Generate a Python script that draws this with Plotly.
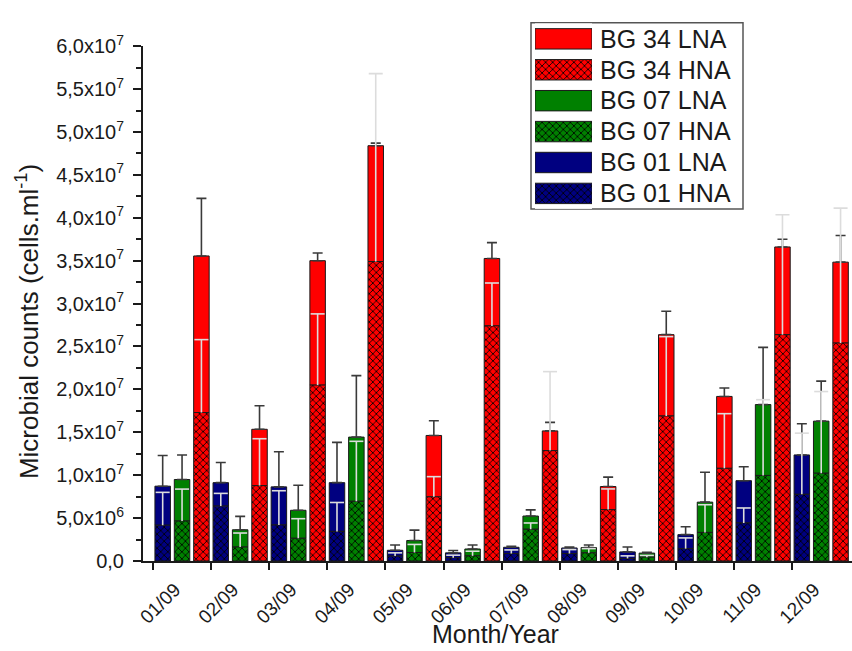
import numpy as np
import plotly.graph_objects as go

# ---------------- data (values in cells/ml, x 1e6) ----------------
months = ["01/09", "02/09", "03/09", "04/09", "05/09", "06/09",
          "07/09", "08/09", "09/09", "10/09", "11/09", "12/09"]

bg01_hna     = [4.17, 6.40, 4.20, 3.45, 0.57, 0.38, 0.87, 0.87, 0.30, 1.44, 4.43, 7.77]
bg01_lna     = [4.55, 2.73, 4.44, 5.68, 0.68, 0.57, 0.73, 0.65, 0.76, 1.63, 4.93, 4.59]
bg01_hna_err = [3.83, 1.48, 3.99, 3.37, 0.38, 0.30, 0.42, 0.46, 0.30, 1.25, 1.75, 7.13]
bg01_lna_err = [3.58, 2.35, 4.09, 4.70, 0.61, 0.27, 0.10, 0.11, 0.57, 0.93, 1.63, 3.64]

bg07_hna     = [4.66, 1.63, 2.65, 6.96, 0.99, 0.60, 3.70, 0.95, 0.45, 3.33, 9.97, 10.23]
bg07_lna     = [4.84, 2.01, 3.26, 7.48, 1.40, 0.80, 1.54, 0.61, 0.47, 3.53, 8.26, 6.07]
bg07_hna_err = [3.72, 1.63, 2.28, 6.99, 0.94, 0.54, 0.73, 0.49, 0.20, 3.23, 8.83, 9.52]
bg07_lna_err = [2.86, 1.56, 2.92, 7.16, 1.21, 0.46, 0.72, 0.30, 0.08, 3.49, 6.67, 4.66]

bg34_hna     = [17.30, 8.79, 20.50, 34.90, 7.48, 27.40, 12.87, 5.99, 16.90, 10.80, 26.38, 25.40]
bg34_lna     = [18.25, 6.56, 14.50, 13.50, 7.15, 7.86, 2.29, 2.69, 9.48, 8.38, 10.22, 9.43]
bg34_hna_err = [8.50, 5.46, 8.30, 21.90, 2.35, 5.00, 9.20, 2.41, 9.25, 6.37, 13.98, 15.73]
bg34_lna_err = [6.71, 2.75, 0.90, 0.30, 1.72, 1.84, 1.00, 1.10, 2.72, 0.98, 0.90, 3.11]

ytick_vals = [0, 5e6, 10e6, 15e6, 20e6, 25e6, 30e6, 35e6, 40e6, 45e6, 50e6, 55e6, 60e6]
ytick_text = ["0,0", "5,0x10<sup>6</sup>", "1,0x10<sup>7</sup>", "1,5x10<sup>7</sup>",
              "2,0x10<sup>7</sup>", "2,5x10<sup>7</sup>", "3,0x10<sup>7</sup>",
              "3,5x10<sup>7</sup>", "4,0x10<sup>7</sup>", "4,5x10<sup>7</sup>",
              "5,0x10<sup>7</sup>", "5,5x10<sup>7</sup>", "6,0x10<sup>7</sup>"]

SCALE = 1e6
FONT = "Liberation Sans, Arial, sans-serif"
INK = "#1a1a1a"
ERR_DARK = "#3a3a3a"
ERR_LIGHT = "#dcdcdc"

stations = [
    ("BG 01", "#000080", bg01_hna, bg01_lna, bg01_hna_err, bg01_lna_err),
    ("BG 07", "#008000", bg07_hna, bg07_lna, bg07_hna_err, bg07_lna_err),
    ("BG 34", "#FF0000", bg34_hna, bg34_lna, bg34_hna_err, bg34_lna_err),
]

n_st = len(stations)
slot = 1.0 / n_st
bar_w = 0.8 * slot
idx = np.arange(len(months))
zeros = [0] * len(months)


def hatch(col):
    return dict(shape="x", fgcolor="#000000", bgcolor=col, size=5,
                solidity=0.3, fillmode="replace")


fig = go.Figure()

# LNA (upper, solid) segments first, so HNA error bars are painted over them
for k, (name, col, hna, lna, hna_err, lna_err) in enumerate(stations):
    xpos = idx + (k + 0.5) * slot
    fig.add_trace(go.Bar(
        x=xpos, y=np.array(lna) * SCALE, base=np.array(hna) * SCALE, width=bar_w,
        name=name + " LNA", showlegend=False,
        marker=dict(color=col, line=dict(color=INK, width=1)),
        error_y=dict(type="data", symmetric=False,
                     array=np.array(lna_err) * SCALE, arrayminus=zeros,
                     color=ERR_DARK, thickness=1.6, width=5),
        xaxis="x", yaxis="y"))

# HNA (lower, cross-hatched) segments; error stems without caps
for k, (name, col, hna, lna, hna_err, lna_err) in enumerate(stations):
    xpos = idx + (k + 0.5) * slot
    fig.add_trace(go.Bar(
        x=xpos, y=np.array(hna) * SCALE, width=bar_w,
        name=name + " HNA", showlegend=False,
        marker=dict(color=col, line=dict(color=INK, width=1), pattern=hatch(col)),
        error_y=dict(type="data", symmetric=False,
                     array=np.array(hna_err) * SCALE, arrayminus=zeros,
                     color=ERR_LIGHT, thickness=1.6, width=0),
        xaxis="x", yaxis="y"))

# top caps of the HNA error bars
for k, (name, col, hna, lna, hna_err, lna_err) in enumerate(stations):
    xpos = idx + (k + 0.5) * slot
    fig.add_trace(go.Scatter(
        x=xpos, y=(np.array(hna) + np.array(hna_err)) * SCALE, mode="markers",
        showlegend=False, hoverinfo="skip",
        marker=dict(symbol="line-ew", size=10, color=ERR_LIGHT,
                    line=dict(color=ERR_LIGHT, width=1.6)),
        xaxis="x", yaxis="y"))

# legend drawn as a small inset bar chart (large swatches like the original)
leg_order = []
for name, col, *_ in reversed(stations):
    leg_order += [(name + " LNA", col, False), (name + " HNA", col, True)]

for lab, col, hatched in leg_order:
    mk = dict(color=col, line=dict(color=INK, width=1))
    if hatched:
        mk["pattern"] = hatch(col)
    fig.add_trace(go.Bar(
        y=[lab], x=[1], orientation="h", width=0.66,
        showlegend=False, hoverinfo="skip", marker=mk,
        xaxis="x2", yaxis="y2"))

W, H = 852, 651
ML, MR, MT, MB = 143, 0, 0, 90
pw, ph = W - ML - MR, H - MT - MB


def px_x(p):
    return (p - ML) / pw


def px_y(p):
    return (H - MB - p) / ph


fig.update_layout(
    width=W, height=H,
    margin=dict(l=ML, r=MR, t=MT, b=MB, pad=0),
    paper_bgcolor="white", plot_bgcolor="white",
    barmode="overlay",
    font=dict(family=FONT, color=INK),
    xaxis=dict(
        domain=[0, 1], anchor="y",
        range=[-0.172, 12.03],
        tickmode="array", tickvals=list(idx), ticktext=months,
        tickangle=-45, ticklabelshift=22, ticklabelstandoff=1,
        tickfont=dict(size=19, family=FONT, color=INK),
        ticks="outside", ticklen=7, tickwidth=2, tickcolor=INK,
        showline=True, linewidth=2, linecolor=INK,
        showgrid=False, zeroline=False,
    ),
    yaxis=dict(
        domain=[0, px_y(33)], anchor="x",
        range=[0, 60e6],
        tickmode="array", tickvals=ytick_vals, ticktext=ytick_text,
        tickfont=dict(size=20, family=FONT, color=INK),
        ticks="outside", ticklen=8, tickwidth=2, tickcolor=INK,
        ticklabelstandoff=5,
        minor=dict(tickmode="linear", tick0=0, dtick=2.5e6, ticks="outside",
                   ticklen=5, tickwidth=2, tickcolor=INK, showgrid=False),
        showline=True, linewidth=2, linecolor=INK,
        showgrid=False, zeroline=False,
    ),
    xaxis2=dict(domain=[px_x(535), px_x(592)], anchor="y2", range=[0, 1],
                visible=False, fixedrange=True),
    yaxis2=dict(domain=[px_y(199.85), px_y(9.65)], anchor="x2", side="right",
                type="category", categoryorder="array",
                categoryarray=[l for l, _, _ in leg_order], autorange="reversed",
                showline=False, ticks="", showgrid=False, zeroline=False,
                ticklabelstandoff=7,
                tickfont=dict(size=25, family=FONT, color=INK)),
    shapes=[dict(type="rect", xref="paper", yref="paper",
                 x0=px_x(531), x1=px_x(743), y0=px_y(200), y1=px_y(9),
                 line=dict(color="#555555", width=1.5), fillcolor="rgba(0,0,0,0)",
                 layer="below")],
    annotations=[
        dict(text="Month/Year", xref="paper", yref="paper",
             x=px_x(495), y=px_y(636), xanchor="center", yanchor="middle",
             showarrow=False, font=dict(size=25, family=FONT, color=INK)),
        dict(text="Microbial counts (cells.ml<sup>-1</sup>)", xref="paper", yref="paper",
             x=px_x(27), y=px_y(316), xanchor="center", yanchor="middle", textangle=-90,
             showarrow=False, font=dict(size=26, family=FONT, color=INK)),
    ],
)

fig.write_html("out.html")
